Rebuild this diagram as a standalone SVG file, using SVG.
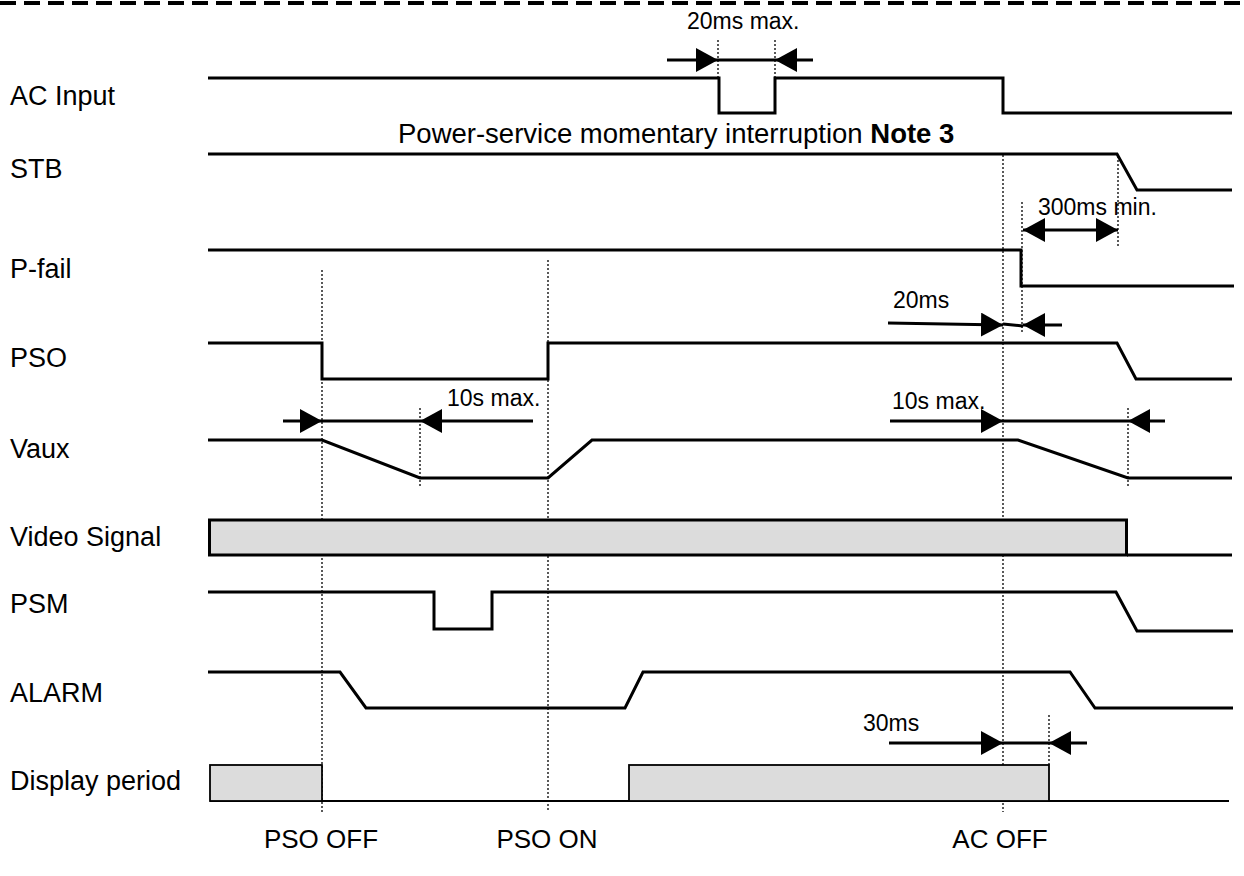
<svg xmlns="http://www.w3.org/2000/svg" width="1244" height="876" viewBox="0 0 1244 876">
<style>
.sig{fill:none;stroke:#000;stroke-width:3;stroke-linejoin:miter}
.bar{fill:#dcdcdc;stroke:#000;stroke-width:3}
.bar2{fill:#dcdcdc;stroke:#000;stroke-width:1.8}
.dot{fill:none;stroke:#000;stroke-width:1.3;stroke-dasharray:2 2}
.dim{fill:none;stroke:#000;stroke-width:3}
.lab{font-family:"Liberation Sans",Arial,sans-serif;font-size:27px;fill:#000}
.bl{font-family:"Liberation Sans",Arial,sans-serif;font-size:26px;fill:#000}
.dl{font-family:"Liberation Sans",Arial,sans-serif;font-size:23px;fill:#000}
</style>
<defs>
<marker id="ah" markerUnits="userSpaceOnUse" markerWidth="22" markerHeight="24" refX="22" refY="12" orient="auto-start-reverse" viewBox="0 0 22 24">
<path d="M0,0 L22,12 L0,24 Z" fill="#000"/>
</marker>
</defs>
<rect width="1244" height="876" fill="#fff"/>
<line x1="0" y1="3" x2="1244" y2="3" stroke="#000" stroke-width="4" stroke-dasharray="16 8"/>

<g id="labels">
<text class="lab" x="10" y="105">AC Input</text>
<text class="lab" x="10" y="178">STB</text>
<text class="lab" x="10" y="278">P-fail</text>
<text class="lab" x="10" y="367">PSO</text>
<text class="lab" x="10" y="458">Vaux</text>
<text class="lab" x="10" y="546">Video Signal</text>
<text class="lab" x="10" y="613">PSM</text>
<text class="lab" x="10" y="702">ALARM</text>
<text class="lab" x="10" y="790">Display period</text>
<text class="bl" x="321" y="848" text-anchor="middle">PSO OFF</text>
<text class="bl" x="547" y="848" text-anchor="middle">PSO ON</text>
<text class="bl" x="1000" y="848" text-anchor="middle">AC OFF</text>
<text class="lab" x="398" y="143" style="font-size:27.5px">Power-service momentary interruption <tspan font-weight="bold">Note 3</tspan></text>
</g>

<g id="guides">
<line class="dot" x1="322" y1="270" x2="322" y2="812"/>
<line class="dot" x1="548" y1="260" x2="548" y2="812"/>
<line class="dot" x1="1003" y1="155" x2="1003" y2="812"/>
<line class="dot" x1="718" y1="40" x2="718" y2="78"/>
<line class="dot" x1="775" y1="40" x2="775" y2="78"/>
<line class="dot" x1="1022" y1="202" x2="1022" y2="332"/>
<line class="dot" x1="1118" y1="156" x2="1118" y2="248"/>
<line class="dot" x1="420" y1="408" x2="420" y2="487"/>
<line class="dot" x1="1128" y1="408" x2="1128" y2="487"/>
<line class="dot" x1="1049" y1="715" x2="1049" y2="765"/>
</g>

<g id="ac-input"><polyline class="sig" points="208,78 719,78 719,113 775,113 775,78 1003,78 1003,113 1232,113"/></g>
<g id="stb"><polyline class="sig" points="208,154 1117,154 1137,190 1232,190"/></g>
<g id="p-fail"><polyline class="sig" points="208,250 1021,250 1021,286 1234,286"/></g>
<g id="pso"><polyline class="sig" points="208,343 322,343 322,379 548,379 548,343 1117,343 1136,379 1232,379"/></g>
<g id="vaux"><polyline class="sig" points="208,440 322,440 420,478 548,478 592,440 1018,440 1128,478 1232,478"/></g>
<g id="video-signal"><rect class="bar" x="209.5" y="520" width="917" height="35"/><line class="sig" x1="1127" y1="555" x2="1232" y2="555"/></g>
<g id="psm"><polyline class="sig" points="208,592 434,592 434,629 492,629 492,592 1116,592 1137,631 1233,631"/></g>
<g id="alarm"><polyline class="sig" points="208,672 340,672 366,708 625,708 643,672 1070,672 1095,708 1233,708"/></g>
<g id="display-period">
<line x1="210" y1="801" x2="1229" y2="801" stroke="#000" stroke-width="2"/>
<rect class="bar2" x="210" y="765" width="112" height="36"/>
<rect class="bar2" x="629" y="765" width="420" height="36"/>
</g>

<g id="connectors">
<line class="dim" x1="667" y1="60" x2="718" y2="60" marker-end="url(#ah)"/>
<line class="dim" x1="813" y1="60" x2="775" y2="60" marker-end="url(#ah)"/>
<line class="dim" x1="718" y1="60" x2="775" y2="60"/>
<line class="dim" x1="1023" y1="230" x2="1118" y2="230" marker-start="url(#ah)" marker-end="url(#ah)"/>
<line class="dim" x1="888" y1="323" x2="1003" y2="325" marker-end="url(#ah)"/>
<line class="dim" x1="1062" y1="325" x2="1023" y2="325" marker-end="url(#ah)"/>
<line class="dim" x1="1003" y1="324" x2="1023" y2="326"/>
<line class="dim" x1="283" y1="421" x2="322" y2="421" marker-end="url(#ah)"/>
<line class="dim" x1="533" y1="421" x2="420" y2="421" marker-end="url(#ah)"/>
<line class="dim" x1="322" y1="421" x2="420" y2="421"/>
<line class="dim" x1="890" y1="421" x2="1003" y2="421" marker-end="url(#ah)"/>
<line class="dim" x1="1165" y1="421" x2="1128" y2="421" marker-end="url(#ah)"/>
<line class="dim" x1="1003" y1="421" x2="1128" y2="421"/>
<line class="dim" x1="889" y1="743" x2="1003" y2="743" marker-end="url(#ah)"/>
<line class="dim" x1="1087" y1="743" x2="1049" y2="743" marker-end="url(#ah)"/>
<line class="dim" x1="1003" y1="743" x2="1049" y2="743"/>
<text class="dl" x="687" y="29">20ms max.</text>
<text class="dl" x="1038" y="215">300ms min.</text>
<text class="dl" x="893" y="308">20ms</text>
<text class="dl" x="447" y="406">10s max.</text>
<text class="dl" x="892" y="409">10s max.</text>
<text class="dl" x="863" y="731">30ms</text>
</g>
</svg>
